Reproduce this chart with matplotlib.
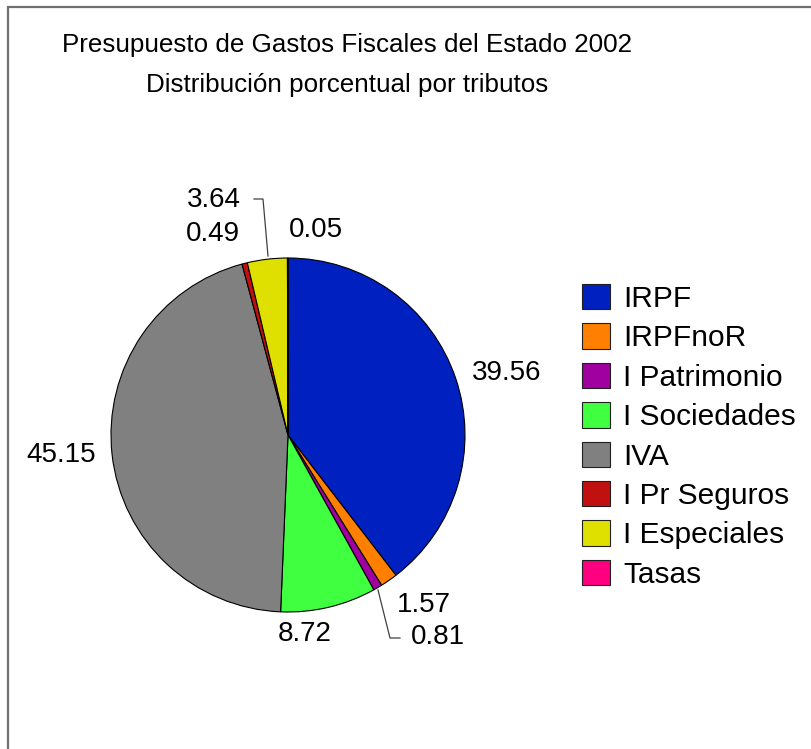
import matplotlib
matplotlib.use("Agg")
import matplotlib.pyplot as plt
from matplotlib.patches import Rectangle
import numpy as np

plt.rcParams['font.family'] = ['Liberation Sans', 'DejaVu Sans']

categories = ["IRPF", "IRPFnoR", "I Patrimonio", "I Sociedades", "IVA",
              "I Pr Seguros", "I Especiales", "Tasas"]
values = [39.56, 1.57, 0.81, 8.72, 45.15, 0.49, 3.64, 0.05]
value_labels = ["39.56", "1.57", "0.81", "8.72", "45.15", "0.49", "3.64", "0.05"]
colors = ["#0020C0", "#FF8000", "#A000A0", "#40FF40", "#808080",
          "#C01010", "#E0E000", "#FF0080"]

W, H = 811, 749
fig = plt.figure(figsize=(W / 100, H / 100), dpi=100)
ax = fig.add_axes([0, 0, 1, 1])

cx, cy, R = 288, H - 435, 177
wedges, _ = ax.pie(values, colors=colors, startangle=90, counterclock=False,
                   center=(cx, cy), radius=R, frame=True,
                   wedgeprops=dict(edgecolor='black', linewidth=0.8))
ax.set_xlim(0, W)
ax.set_ylim(0, H)
ax.set_aspect('equal')
ax.axis('off')

# label positions in pixel layout (x from left, y from top)
label_pos = {
    "39.56": (507, 373),
    "1.57": (424, 605),
    "0.81": (438, 637),
    "8.72": (305, 634),
    "45.15": (61, 455),
    "0.49": (213, 234),
    "3.64": (214, 200),
    "0.05": (316, 230),
}
for lab in value_labels:
    x, y = label_pos[lab]
    ax.text(x, H - y, lab, fontsize=20, ha='center', va='center', color='black')

# leader lines
ax.plot([378, 390, 400], [H - 590, H - 638, H - 638], color='#404040', lw=0.9)
ax.plot([268, 263, 254], [H - 256, H - 199, H - 199], color='#404040', lw=0.9)

# title
ax.text(347, H - 45, "Presupuesto de Gastos Fiscales del Estado 2002",
        fontsize=18.7, ha='center', va='center')
ax.text(347, H - 85, "Distribución porcentual por tributos",
        fontsize=18.7, ha='center', va='center')

# frame border
ax.add_patch(Rectangle((8, -20), W + 20, H - 7 + 20, fill=False,
                       edgecolor='#707070', lw=1.6, clip_on=False))

leg = ax.legend(wedges, categories, loc='upper left',
                bbox_to_anchor=(582, H - 284), bbox_transform=ax.transData,
                frameon=False, fontsize=21.5, handlelength=0.93,
                handleheight=0.93, handletextpad=0.45, labelspacing=0.35,
                borderpad=0, borderaxespad=0)
for h in leg.legend_handles:
    h.set_edgecolor('#202020')
    h.set_linewidth(0.8)

fig.savefig("out.png", dpi=100)
